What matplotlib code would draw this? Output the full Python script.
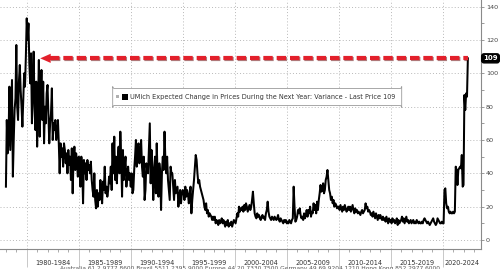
import numpy as np
import matplotlib
matplotlib.use("Agg")
import matplotlib.pyplot as plt
from matplotlib.patches import FancyBboxPatch, Rectangle
from matplotlib.transforms import Affine2D
import matplotlib.patheffects as pe

# ---------------- data (monthly, Jan 1978 .. Jun 2022) ----------------
start_year = 1978
vals_1978_1979 = [32, 72, 52, 60, 92, 54, 75, 96, 38, 60, 78, 85,
                  117, 80, 72, 95, 105, 90, 80, 68, 85, 100, 92, 110]
vals_1980_1984 = [133, 120, 130, 106, 94, 112, 70, 90, 113, 80, 66, 95,
                  56, 80, 108, 62, 85, 102, 72, 95, 58, 80, 70, 88,
                  93, 75, 58, 70, 76, 91, 60, 70, 66, 72, 60, 64,
                  72, 58, 40, 58, 50, 55, 44, 58, 54, 46, 52, 40,
                  54, 45, 50, 36, 55, 28, 48, 56, 42, 52, 46, 38]
vals_1985_1989 = [50, 44, 32, 50, 44, 22, 48, 40, 46, 36, 48, 42,
                  45, 40, 47, 36, 30, 26, 40, 24, 19, 30, 20, 28,
                  24, 36, 28, 22, 35, 30, 44, 28, 32, 26, 30, 38,
                  34, 44, 30, 58, 40, 62, 36, 50, 34, 48, 56, 40,
                  65, 50, 26, 54, 36, 44, 50, 32, 40, 44, 36, 40]
vals_1990_1994 = [32, 40, 28, 30, 42, 50, 60, 44, 56, 58, 46, 52,
                  60, 44, 38, 50, 24, 30, 46, 42, 40, 56, 70, 34,
                  54, 44, 24, 40, 50, 28, 58, 38, 26, 46, 40, 18,
                  40, 50, 42, 65, 48, 40, 50, 36, 30, 24, 44, 40,
                  40, 32, 24, 36, 28, 30, 32, 20, 26, 30, 22, 28]
vals_1995_1999 = [30, 28, 24, 32, 26, 30, 28, 22, 26, 32, 16, 24,
                  30, 36, 44, 51, 48, 40, 34, 36, 32, 30, 28, 26,
                  24, 20, 18, 22, 16, 18, 14, 16, 15, 14, 12, 14,
                  12, 14, 10, 12, 11, 9, 12, 10, 11, 13, 10, 12,
                  10, 8, 11, 9, 12, 8, 10, 9, 11, 8, 10, 12]
vals_2000_2004 = [11, 10, 13, 16, 14, 20, 17, 19, 18, 20, 17, 21,
                  18, 22, 20, 17, 19, 21, 18, 20, 24, 29, 22, 16,
                  14, 13, 16, 14, 15, 13, 12, 14, 15, 13, 14, 12,
                  16, 18, 23, 17, 14, 13, 12, 14, 13, 12, 14, 13,
                  12, 13, 15, 12, 11, 13, 12, 11, 10, 12, 11, 12]
vals_2005_2009 = [10, 11, 10, 12, 11, 10, 12, 13, 32, 20, 11, 12,
                  14, 18, 16, 19, 15, 13, 14, 12, 16, 13, 15, 18,
                  14, 18, 16, 20, 14, 17, 16, 22, 18, 21, 16, 23,
                  18, 24, 28, 33, 29, 30, 34, 28, 30, 36, 38, 42,
                  36, 30, 28, 24, 26, 22, 24, 20, 22, 21, 19, 20]
vals_2010_2014 = [20, 18, 21, 19, 17, 20, 18, 21, 19, 17, 18, 20,
                  18, 20, 17, 19, 21, 18, 16, 19, 17, 18, 16, 17,
                  16, 15, 17, 18, 16, 17, 18, 22, 19, 20, 17, 18,
                  17, 15, 16, 14, 17, 15, 13, 16, 14, 12, 15, 13,
                  15, 13, 12, 14, 12, 13, 11, 14, 12, 10, 13, 11]
vals_2015_2019 = [12, 10, 13, 11, 12, 10, 11, 13, 9, 12, 10, 11,
                  12, 14, 11, 13, 10, 12, 14, 11, 12, 10, 11, 12,
                  10, 11, 12, 10, 11, 10, 12, 11, 10, 11, 10, 10,
                  11, 10, 12, 13, 12, 11, 10, 11, 10, 9, 10, 11,
                  12, 13, 11, 10, 9, 10, 13, 12, 11, 10, 10, 11]
vals_2020_2022 = [10, 10, 30, 31, 22, 19, 20, 17, 16, 17, 16, 16,
                  17, 16, 17, 44, 42, 33, 42, 43, 44, 43, 51, 32,
                  33, 87, 78, 88, 86, 109]

period_labels = ["1980-1984", "1985-1989", "1990-1994", "1995-1999",
                 "2000-2004", "2005-2009", "2010-2014", "2015-2019",
                 "2020-2024"]
period_starts = [1980, 1985, 1990, 1995, 2000, 2005, 2010, 2015, 2020]
y_ticks = [0, 20, 40, 60, 80, 100, 120, 140]
last_price = 109
legend_label = "UMich Expected Change in Prices During the Next Year: Variance - Last Price 109"
footer = ("Australia 61 2 9777 8600 Brazil 5511 2395 9000 Europe 44 20 7330 7500 "
          "Germany 49 69 9204 1210 Hong Kong 852 2977 6000")

series = np.array(vals_1978_1979 + vals_1980_1984 + vals_1985_1989 + vals_1990_1994
                  + vals_1995_1999 + vals_2000_2004 + vals_2005_2009 + vals_2010_2014
                  + vals_2015_2019 + vals_2020_2022, dtype=float)
dates = start_year + np.arange(len(series)) / 12.0

# ---------------- figure ----------------
W, H = 500, 269
fig = plt.figure(figsize=(W / 100, H / 100), dpi=100)
fig.patch.set_facecolor("white")
ax = fig.add_axes([0, 20 / H, 481 / W, 249 / H])
XMIN, XMAX = 1977.43, 2023.68
ax.set_xlim(XMIN, XMAX)
ax.set_ylim(-5.4, 144)

grid_c = "#b8b8b8"
axis_c = "#8a8a8a"
ax.grid(True, which="major", linestyle=(0, (1, 2.2)), color=grid_c, linewidth=0.7)
ax.set_axisbelow(True)

ax.plot(dates, series, color="black", linewidth=1.45, solid_joinstyle="round", zorder=3)

for s in ["left", "top"]:
    ax.spines[s].set_visible(False)
for s in ["right", "bottom"]:
    ax.spines[s].set_color(axis_c)
    ax.spines[s].set_linewidth(0.8)

# y axis on right
ax.yaxis.tick_right()
ax.set_yticks(y_ticks)
ax.set_yticks([v + 10 for v in y_ticks[:-1]], minor=True)
ax.tick_params(axis="y", which="both", direction="out", length=2.4, width=0.6,
               color=axis_c, labelsize=4.6, labelcolor="#444444", pad=1.2)

# x axis: period boundaries with long ticks, yearly minor ticks
ax.set_xticks(period_starts)
ax.set_xticks(np.arange(1978, 2024), minor=True)
ax.set_xticklabels([])
ax.tick_params(axis="x", which="major", direction="out", length=13, width=0.7, color="#c8c8c8")
ax.tick_params(axis="x", which="minor", direction="out", length=2.2, width=0.5, color=axis_c)
for lab, st in zip(period_labels, period_starts):
    c = (max(st, XMIN) + min(st + 5, XMAX)) / 2
    ax.text(c, -14 / 249, lab, transform=ax.get_xaxis_transform(), ha="center", va="center",
            fontsize=4.7, color="#333333")

# red dashed arrow at last price
red = "#e3202b"
arrow_tip = 1981.3
dash_start = 1982.25
ln, = ax.plot([dash_start, dates[-1]], [last_price, last_price], color=red, linewidth=3.0,
              solid_capstyle="butt", dash_capstyle="butt", zorder=5)
ln.set_dashes([2.25, 0.95])
ln.set_path_effects([pe.SimpleLineShadow(offset=(0.4, -0.7), shadow_color="#5a0000", alpha=0.5),
                     pe.Normal()])
ax.annotate("", xy=(arrow_tip, last_price), xytext=(dash_start + 0.15, last_price),
            arrowprops=dict(arrowstyle="-|>,head_length=0.5,head_width=0.22", color=red,
                            lw=0.01, shrinkA=0, shrinkB=0, mutation_scale=15), zorder=5)

# last price tag
ax.annotate(str(last_price), xy=(1.0, last_price), xycoords=("axes fraction", "data"),
            xytext=(9.5, 0), textcoords="offset pixels", ha="center", va="center",
            fontsize=5, color="white", fontweight="bold",
            bbox=dict(boxstyle="round,pad=0.22,rounding_size=0.35", fc="black", ec="black"),
            annotation_clip=False)

# legend box (pixel coords, origin at top-left)
P = Affine2D().scale(1 / W, -1 / H).translate(0, 1) + fig.transFigure
box = FancyBboxPatch((112.7, 105.5), 401.7 - 112.7, -17, boxstyle="round,pad=0,rounding_size=2",
                     transform=P, fc="white", ec="#9a9a9a", lw=0.6, zorder=6)
fig.add_artist(box)
fig.add_artist(Rectangle((116.2, 95), 3, 3, transform=P, fc="#b0b0b0", ec="none", zorder=7))
fig.add_artist(Rectangle((121.8, 93.7), 6, 6.8, transform=P, fc="black", ec="none", zorder=7))
t = fig.text(129.8, 97.2, legend_label, transform=P, ha="left", va="center",
             fontsize=4.5, color="#333333", zorder=8)
fig.canvas.draw()
wid = t.get_window_extent().width
t.set_fontsize(4.5 * 267 / wid)

f = fig.text(60, 266.3, footer, transform=P, ha="left", va="top", fontsize=4.5, color="#555555")
fig.canvas.draw()
wid = f.get_window_extent().width
f.set_fontsize(4.5 * 377 / wid)

fig.savefig("out.png", dpi=100, facecolor="white")
